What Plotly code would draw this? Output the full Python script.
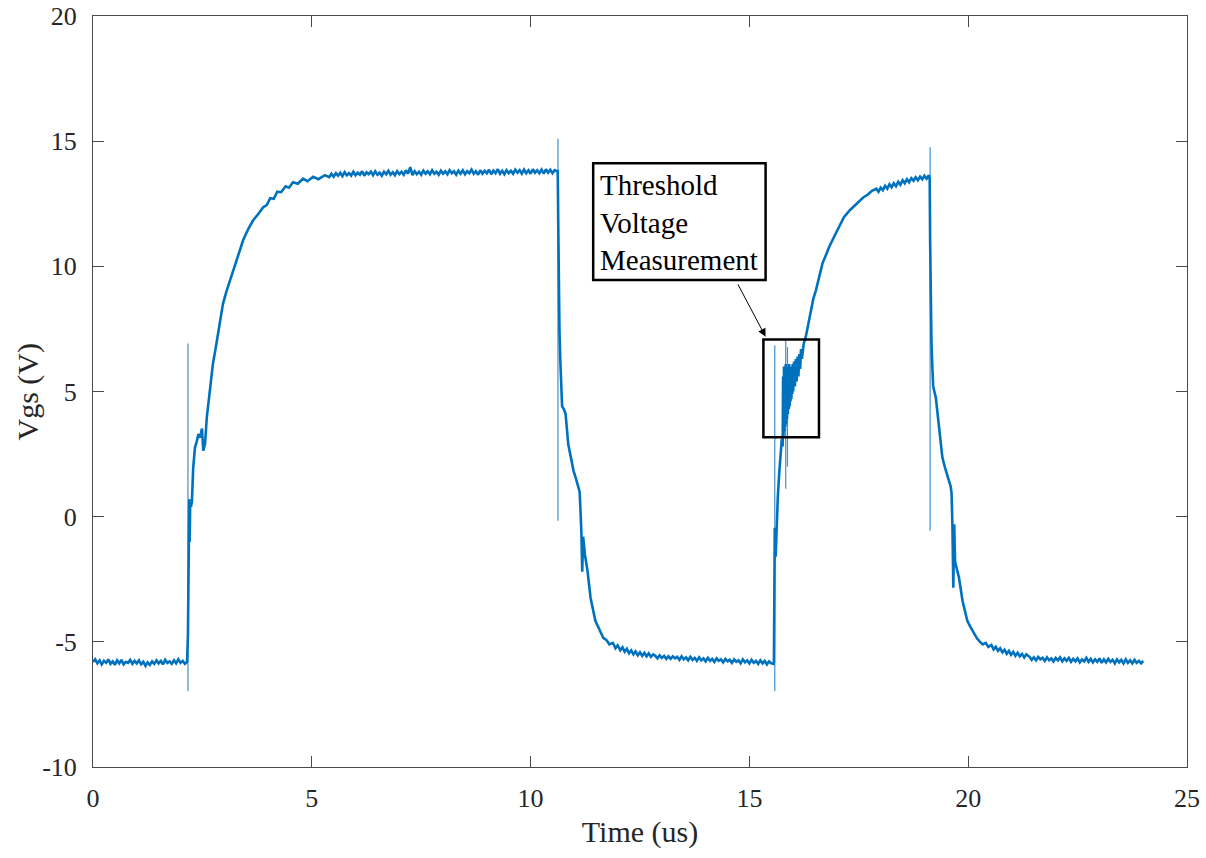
import plotly.graph_objects as go

# ---- waveform (Vgs vs time) ----
t_base1 = [0.00, 0.05, 0.10, 0.15, 0.20, 0.25, 0.30, 0.35, 0.40, 0.45,
           0.50, 0.55, 0.60, 0.65, 0.70, 0.75, 0.80, 0.85, 0.90, 0.95,
           1.00, 1.05, 1.10, 1.15, 1.20, 1.25, 1.30, 1.35, 1.40, 1.45,
           1.50, 1.55, 1.60, 1.65, 1.70, 1.75, 1.80, 1.85, 1.90, 1.95,
           2.00, 2.05, 2.10, 2.15]
v_base1 = [-5.80, -5.70, -5.86, -5.74, -5.90, -5.76, -5.84, -5.70, -5.88, -5.78,
           -5.92, -5.74, -5.86, -5.72, -5.90, -5.80, -5.84, -5.72, -5.88, -5.76,
           -5.86, -5.74, -5.90, -5.80, -5.96, -5.82, -5.92, -5.78, -5.88, -5.74,
           -5.86, -5.76, -5.90, -5.72, -5.84, -5.78, -5.88, -5.74, -5.86, -5.70,
           -5.84, -5.76, -5.88, -5.80]

t_rise1 = [2.17, 2.18, 2.19, 2.20, 2.21, 2.22, 2.24, 2.26, 2.29, 2.33, 2.37, 2.41, 2.45,
           2.49, 2.52, 2.56, 2.60, 2.67, 2.74, 2.80, 2.86, 2.97, 3.05, 3.13, 3.21, 3.29,
           3.36, 3.43, 3.55, 3.66, 3.78, 3.89, 3.97, 4.05, 4.13, 4.21, 4.30, 4.40, 4.48,
           4.57, 4.68, 4.80, 4.90, 5.03, 5.15, 5.30]
v_rise1 = [-4.70, -1.50, -3.00, 0.70, -1.00, 0.50, 0.40, 0.60, 1.96, 2.76, 3.00, 3.30, 3.16,
           3.52, 2.64, 2.90, 3.96, 5.04, 6.10, 6.70, 7.30, 8.50, 9.00, 9.44, 9.90, 10.36,
           10.70, 11.04, 11.50, 11.84, 12.10, 12.36, 12.45, 12.72, 12.70, 12.98, 12.96, 13.20, 13.14,
           13.36, 13.30, 13.50, 13.40, 13.58, 13.48, 13.64]

t_plat1 = [5.40, 5.45, 5.50, 5.55, 5.60, 5.65, 5.70, 5.75, 5.80, 5.85,
           5.90, 5.95, 6.00, 6.05, 6.10, 6.15, 6.20, 6.25, 6.30, 6.35,
           6.40, 6.45, 6.50, 6.55, 6.60, 6.65, 6.70, 6.75, 6.80, 6.85,
           6.90, 6.95, 7.00, 7.05, 7.10, 7.15, 7.20, 7.25, 7.30, 7.35,
           7.40, 7.45, 7.50, 7.55, 7.60, 7.65, 7.70, 7.75, 7.80, 7.85,
           7.90, 7.95, 8.00, 8.05, 8.10, 8.15, 8.20, 8.25, 8.30, 8.35,
           8.40, 8.45, 8.50, 8.55, 8.60, 8.65, 8.70, 8.75, 8.80, 8.85,
           8.90, 8.95, 9.00, 9.05, 9.10, 9.15, 9.20, 9.25, 9.30, 9.35,
           9.40, 9.45, 9.50, 9.55, 9.60, 9.65, 9.70, 9.75, 9.80, 9.85,
           9.90, 9.95, 10.00, 10.05, 10.10, 10.15, 10.20, 10.25, 10.30, 10.35,
           10.40, 10.45, 10.50, 10.55, 10.60]
v_plat1 = [13.56, 13.70, 13.58, 13.72, 13.62, 13.74, 13.60, 13.76, 13.64, 13.72,
           13.62, 13.78, 13.64, 13.74, 13.66, 13.80, 13.62, 13.76, 13.68, 13.78,
           13.64, 13.80, 13.66, 13.74, 13.62, 13.78, 13.68, 13.82, 13.66, 13.76,
           13.64, 13.80, 13.68, 13.78, 13.66, 13.84, 13.70, 13.96, 13.64, 13.80,
           13.68, 13.78, 13.66, 13.82, 13.70, 13.80, 13.68, 13.84, 13.70, 13.78,
           13.66, 13.82, 13.70, 13.80, 13.68, 13.84, 13.72, 13.80, 13.66, 13.82,
           13.70, 13.84, 13.68, 13.80, 13.72, 13.86, 13.70, 13.80, 13.66, 13.84,
           13.70, 13.82, 13.72, 13.86, 13.68, 13.82, 13.72, 13.88, 13.70, 13.82,
           13.68, 13.84, 13.72, 13.82, 13.70, 13.86, 13.74, 13.84, 13.70, 13.86,
           13.72, 13.84, 13.70, 13.88, 13.74, 13.84, 13.72, 13.86, 13.70, 13.88,
           13.74, 13.86, 13.72, 13.84, 13.80]

t_fall1 = [10.62, 10.63, 10.64, 10.66, 10.68, 10.70, 10.72, 10.76, 10.80, 10.86, 10.92, 10.98,
           11.04, 11.09, 11.12, 11.14, 11.16, 11.18, 11.20, 11.24, 11.30, 11.37, 11.42, 11.48,
           11.57, 11.66, 11.73, 11.80, 11.88, 11.94, 11.99, 12.05, 12.10, 12.15, 12.20, 12.25,
           12.30, 12.35, 12.40, 12.45, 12.50, 12.55, 12.60, 12.65, 12.70, 12.75, 12.80]
v_fall1 = [13.80, 12.00, 9.80, 7.40, 6.20, 5.20, 4.40, 4.30, 4.10, 2.90, 2.40, 1.84,
           1.50, 1.16, 1.00, 0.24, -0.60, -2.20, -0.80, -1.50, -2.16, -3.24, -3.70, -4.16,
           -4.50, -4.84, -4.92, -5.10, -5.04, -5.26, -5.14, -5.34, -5.22, -5.40, -5.28, -5.46,
           -5.34, -5.50, -5.38, -5.54, -5.42, -5.56, -5.44, -5.58, -5.46, -5.60, -5.50]

t_base2 = [12.85, 12.90, 12.95, 13.00, 13.05, 13.10, 13.15, 13.20, 13.25, 13.30,
           13.35, 13.40, 13.45, 13.50, 13.55, 13.60, 13.65, 13.70, 13.75, 13.80,
           13.85, 13.90, 13.95, 14.00, 14.05, 14.10, 14.15, 14.20, 14.25, 14.30,
           14.35, 14.40, 14.45, 14.50, 14.55, 14.60, 14.65, 14.70, 14.75, 14.80,
           14.85, 14.90, 14.95, 15.00, 15.05, 15.10, 15.15, 15.20, 15.25, 15.30,
           15.35, 15.40, 15.45, 15.50, 15.55]
v_base2 = [-5.56, -5.66, -5.54, -5.64, -5.56, -5.68, -5.58, -5.68, -5.58, -5.66,
           -5.60, -5.72, -5.58, -5.70, -5.62, -5.74, -5.60, -5.72, -5.64, -5.76,
           -5.62, -5.74, -5.66, -5.78, -5.64, -5.76, -5.68, -5.80, -5.66, -5.76,
           -5.70, -5.82, -5.68, -5.78, -5.72, -5.84, -5.70, -5.80, -5.74, -5.86,
           -5.70, -5.82, -5.74, -5.86, -5.72, -5.84, -5.76, -5.88, -5.74, -5.86,
           -5.76, -5.90, -5.78, -5.86, -5.88]

t_rise2 = [15.56, 15.57, 15.58, 15.60, 15.62, 15.65, 15.68, 15.72, 15.74,
           15.76, 15.77, 15.78, 15.79, 15.80, 15.81, 15.82, 15.83, 15.84, 15.85, 15.86, 15.87,
           15.88, 15.89, 15.90, 15.91, 15.92, 15.93, 15.94, 15.95, 15.96, 15.97, 15.98, 15.99,
           16.00, 16.02, 16.04, 16.06, 16.08, 16.10, 16.12, 16.14, 16.16, 16.18, 16.20, 16.24,
           16.29, 16.35, 16.40, 16.46, 16.52, 16.60, 16.67, 16.75, 16.82, 16.93, 17.05, 17.16,
           17.30, 17.47, 17.60, 17.70, 17.80,
           17.90, 17.95, 18.00, 18.05, 18.10, 18.15, 18.20, 18.25, 18.30, 18.35,
           18.40, 18.45, 18.50, 18.55, 18.60, 18.65, 18.70, 18.75, 18.80, 18.85,
           18.90, 18.95, 19.00, 19.05, 19.10]
v_rise2 = [-5.80, -3.00, -0.44, -1.60, -0.40, 0.80, 1.70, 2.60, 3.10,
           2.80, 5.60, 3.20, 6.00, 3.40, 5.70, 3.60, 6.10, 3.70, 5.80, 3.90, 6.00,
           4.10, 5.70, 4.30, 6.10, 4.40, 5.80, 4.60, 6.00, 4.70, 5.90, 4.90, 6.10,
           5.00, 6.20, 5.20, 6.30, 5.40, 6.40, 5.60, 6.50, 5.90, 6.70, 6.30, 6.90,
           7.20, 7.70, 8.24, 8.70, 9.04, 9.60, 10.12, 10.45, 10.76, 11.16, 11.60, 11.96,
           12.25, 12.52, 12.75, 12.86, 13.02,
           13.10, 12.98, 13.14, 13.04, 13.22, 13.10, 13.28, 13.16, 13.32, 13.20,
           13.38, 13.26, 13.44, 13.32, 13.48, 13.36, 13.52, 13.42, 13.56, 13.44,
           13.58, 13.48, 13.62, 13.50, 13.64]

t_fall2 = [19.12, 19.13, 19.14, 19.16, 19.18, 19.20, 19.26, 19.33, 19.41, 19.47, 19.53, 19.60,
           19.62, 19.64, 19.66, 19.68, 19.70, 19.79, 19.87, 19.98, 20.05, 20.13, 20.20, 20.26,
           20.33, 20.40, 20.46, 20.53, 20.58, 20.63, 20.68, 20.73, 20.78, 20.83, 20.88, 20.93,
           20.98, 21.03, 21.08, 21.13, 21.18, 21.23, 21.28, 21.33]
v_fall2 = [13.50, 11.00, 8.60, 7.00, 6.00, 5.20, 4.76, 3.56, 2.36, 1.96, 1.56, 1.20,
           0.92, -0.40, -2.84, -0.30, -1.80, -2.44, -3.36, -4.16, -4.40, -4.68, -4.86, -4.98,
           -5.10, -5.04, -5.20, -5.12, -5.30, -5.20, -5.36, -5.26, -5.42, -5.32, -5.48, -5.36,
           -5.52, -5.40, -5.56, -5.44, -5.58, -5.48, -5.62, -5.50]

t_base3 = [21.40, 21.45, 21.50, 21.55, 21.60, 21.65, 21.70, 21.75, 21.80, 21.85,
           21.90, 21.95, 22.00, 22.05, 22.10, 22.15, 22.20, 22.25, 22.30, 22.35,
           22.40, 22.45, 22.50, 22.55, 22.60, 22.65, 22.70, 22.75, 22.80, 22.85,
           22.90, 22.95, 23.00, 23.05, 23.10, 23.15, 23.20, 23.25, 23.30, 23.35,
           23.40, 23.45, 23.50, 23.55, 23.60, 23.65, 23.70, 23.75, 23.80, 23.85,
           23.90, 23.95, 24.00]
v_base3 = [-5.60, -5.72, -5.62, -5.74, -5.60, -5.70, -5.64, -5.76, -5.62, -5.74,
           -5.66, -5.78, -5.64, -5.74, -5.62, -5.78, -5.66, -5.76, -5.64, -5.80,
           -5.68, -5.78, -5.66, -5.82, -5.70, -5.78, -5.64, -5.80, -5.68, -5.82,
           -5.70, -5.80, -5.66, -5.84, -5.70, -5.82, -5.68, -5.80, -5.72, -5.86,
           -5.70, -5.82, -5.72, -5.86, -5.70, -5.84, -5.74, -5.86, -5.72, -5.84,
           -5.76, -5.86, -5.76]

# fast switching spikes (thin vertical excursions)
spike_t = [2.17, 10.625, 15.58, 15.83, 15.87, 19.13]
spike_lo = [-6.96, -0.16, -6.96, 1.12, 2.00, -0.56]
spike_hi = [6.92, 15.10, 6.84, 7.04, 6.77, 14.76]

# annotation geometry (data units)
label_text = "Threshold<br>Voltage<br>Measurement"
label_box = [11.43, 9.45, 15.37, 14.12]
meas_box = [15.32, 3.17, 16.59, 7.08]
arrow_from = [14.72, 9.34]
arrow_to = [15.37, 7.19]

x_ticks = [0, 5, 10, 15, 20, 25]
x_ticktext = ["0", "5", "10", "15", "20", "25"]
y_ticks = [-10, -5, 0, 5, 10, 15, 20]
y_ticktext = ["-10", "-5", "0", "5", "10", "15", "20"]

segs_t = [t_base1, t_rise1, t_plat1, t_fall1, t_base2, t_rise2, t_fall2, t_base3]
segs_v = [v_base1, v_rise1, v_plat1, v_fall1, v_base2, v_rise2, v_fall2, v_base3]
t_all, v_all = [], []
for a, b in zip(segs_t, segs_v):
    assert len(a) == len(b), (len(a), len(b))
    t_all += a
    v_all += b

sx, sy = [], []
for t, lo, hi in zip(spike_t, spike_lo, spike_hi):
    sx += [t, t, None]
    sy += [lo, hi, None]

blue = "#0072BD"
fig = go.Figure()
fig.add_trace(go.Scatter(x=sx, y=sy, mode="lines",
                         line=dict(color="#3d8fcf", width=1.2), hoverinfo="skip"))
fig.add_trace(go.Scatter(x=t_all, y=v_all, mode="lines",
                         line=dict(color=blue, width=2.6)))

fig.add_shape(type="rect", x0=label_box[0], y0=label_box[1], x1=label_box[2], y1=label_box[3],
              xref="x", yref="y", line=dict(color="black", width=2.5), fillcolor="white")
fig.add_shape(type="rect", x0=meas_box[0], y0=meas_box[1], x1=meas_box[2], y1=meas_box[3],
              xref="x", yref="y", line=dict(color="black", width=2.5))
fig.add_annotation(x=label_box[0] + 0.12, y=(label_box[1] + label_box[3]) / 2 - 0.05,
                   xref="x", yref="y", text=label_text, showarrow=False,
                   xanchor="left", yanchor="middle", align="left",
                   font=dict(family="Liberation Serif", size=29, color="black"))
fig.add_annotation(x=arrow_to[0], y=arrow_to[1], ax=arrow_from[0], ay=arrow_from[1],
                   xref="x", yref="y", axref="x", ayref="y", text="",
                   showarrow=True, arrowhead=2, arrowsize=1.6, arrowwidth=1, arrowcolor="black")
# y-axis title placed as rotated text
fig.add_annotation(x=-0.0603, y=0.5, xref="paper", yref="paper", text="Vgs (V)",
                   showarrow=False, textangle=-90, xanchor="center", yanchor="middle",
                   font=dict(family="Liberation Serif", size=30, color="#262626"))

axis_common = dict(showgrid=False, zeroline=False, showline=True, linecolor="#4a4a4a",
                   linewidth=1, mirror="ticks", ticks="inside", ticklen=11, tickwidth=1,
                   tickcolor="#4a4a4a", automargin=False,
                   tickfont=dict(family="Liberation Serif", size=26, color="#262626"))
fig.update_xaxes(range=[0, 25], tickvals=x_ticks, ticktext=x_ticktext, ticklabelstandoff=8,
                 title=dict(text="Time (us)", font=dict(family="Liberation Serif", size=30,
                                                        color="#262626"), standoff=8),
                 **axis_common)
fig.update_yaxes(range=[-10, 20], tickvals=y_ticks, ticktext=y_ticktext, ticklabelstandoff=10,
                 **axis_common)
fig.update_layout(width=1206, height=858, showlegend=False,
                  paper_bgcolor="white", plot_bgcolor="white",
                  margin=dict(l=93, r=19, t=16, b=91))
fig.write_html("out.html")
